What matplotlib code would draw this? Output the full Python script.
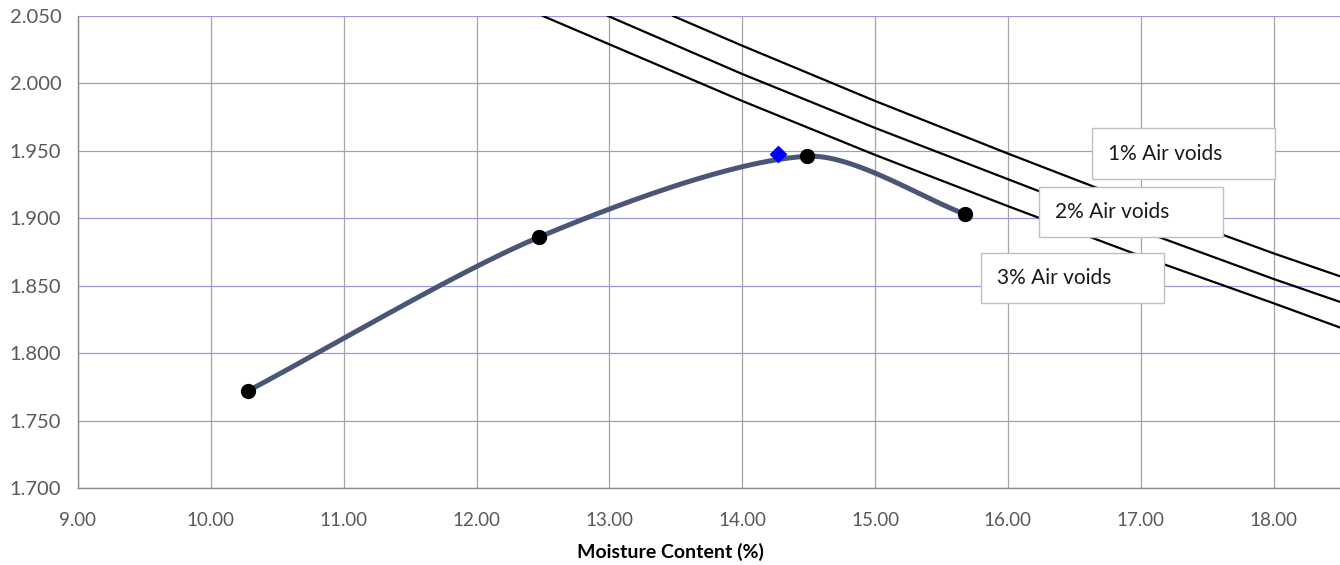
import numpy as np
import matplotlib.pyplot as plt

plt.rcParams['font.family'] = ['Lato', 'DejaVu Sans']

# Compaction test results -----------------------------------------------------
moisture = [10.28, 12.47, 14.49, 15.68]
density = [1.772, 1.886, 1.946, 1.903]
# Maximum dry density / optimum moisture content
omc = [14.27]
mdd = [1.9477]
# Air voids lines -------------------------------------------------------------
av1_x = [13.48, 14.0, 15.0, 16.0, 17.0, 18.0, 18.5]
av1_y = [2.050, 2.028, 1.987, 1.948, 1.910, 1.874, 1.857]
av2_x = [12.99, 14.0, 15.0, 16.0, 17.0, 18.0, 18.5]
av2_y = [2.050, 2.007, 1.967, 1.929, 1.891, 1.855, 1.838]
av3_x = [12.50, 13.0, 14.0, 15.0, 16.0, 17.0, 18.0, 18.5]
av3_y = [2.050, 2.029, 1.987, 1.947, 1.909, 1.872, 1.837, 1.819]
av_labels = ['1% Air voids', '2% Air voids', '3% Air voids']
xticks = np.arange(9, 18.01, 1.0)
yticks = np.arange(1.70, 2.051, 0.05)
# Pixel scale of the plot area (used only for the smoothing tangents)
(PX_X, PX_Y) = (132.7, 1348.6)
TENSION = 0.27


def smooth(xs, ys, n=60):
    # Excel-like smoothed line: cubic Bezier, chord-length scaled tangents
    p = np.column_stack([np.array(xs)*PX_X, np.array(ys)*PX_Y])
    k = len(p)
    tang = []
    for i in range(k):
        (a, b) = (p[max(i-1, 0)], p[min(i+1, k-1)])
        d = b - a
        tang.append(d/np.linalg.norm(d))
    out = []
    t = np.linspace(0, 1, n)[:, None]
    for i in range(k-1):
        L = np.linalg.norm(p[i+1] - p[i])
        (b0, b3) = (p[i], p[i+1])
        b1 = b0 + tang[i]*L*TENSION
        b2 = b3 - tang[i+1]*L*TENSION
        c = ((1-t)**3)*b0 + 3*((1-t)**2)*t*b1 + 3*(1-t)*(t**2)*b2 + (t**3)*b3
        out.append(c)
    out = np.vstack(out)
    return out[:, 0]/PX_X, out[:, 1]/PX_Y


fig = plt.figure(figsize=(13.4, 5.65), dpi=100)
ax = fig.add_axes([78/1340, 77/565, 1262/1340, 472/565])

# Grid -------------------------------------------------------------------------
ax.set_xticks(xticks)
ax.set_yticks(yticks)
ax.xaxis.grid(True, color='#A6A6A6', lw=0.9)
ax.yaxis.grid(True, color='#9A9AE0', lw=0.9)
ax.set_axisbelow(True)

# Air voids lines ----------------------------------------------------------------
for (xs, ys) in [(av1_x, av1_y), (av2_x, av2_y), (av3_x, av3_y)]:
    ax.plot(xs, ys, color='black', lw=1.6, zorder=2)

# Compaction curve ---------------------------------------------------------------
(sx, sy) = smooth(moisture, density)
ax.plot(sx, sy, color='#4A5677', lw=3.6, solid_capstyle='round', zorder=3)
ax.plot(moisture, density, 'o', color='black', ms=10, zorder=4)
ax.plot(omc, mdd, 'D', color='#0000FF', ms=8, zorder=5)

# Labels for air voids lines (boxes in pixel coords) ---------------------------
label_pos = [(1092, 1275, 128, 179), (1039, 1223, 187, 237), (981, 1164, 253, 303)]
for (lbl, (x0, x1, y0, y1)) in zip(av_labels, label_pos):
    (fx0, fx1) = (x0/1340, x1/1340)
    (fy0, fy1) = (1 - y1/565, 1 - y0/565)
    fig.patches.append(plt.Rectangle((fx0, fy0), fx1 - fx0, fy1 - fy0,
                                     transform=fig.transFigure, fc='white',
                                     ec='#BFBFBF', lw=1.0, zorder=6))
    fig.text(fx0 + 16/1340, (fy0 + fy1)/2, lbl, fontsize=15, color='#1A1A1A',
             va='center', ha='left', zorder=7)

# Axes -------------------------------------------------------------------------
ax.set_xlim(9, 18.5)
ax.set_ylim(1.70, 2.05)
ax.set_xticklabels(['{:.2f}'.format(v) for v in xticks])
ax.set_yticklabels(['{:.3f}'.format(v) for v in yticks])
ax.tick_params(length=0, labelsize=13.5, colors='#595959')
ax.tick_params(axis='x', pad=17)
ax.tick_params(axis='y', pad=12, labelsize=14.5)
for s in ['top', 'right']:
    ax.spines[s].set_visible(False)
for s in ['left', 'bottom']:
    ax.spines[s].set_color('#8C8C8C')
    ax.spines[s].set_linewidth(1.0)
ax.set_xlabel('Moisture Content (%)', fontsize=14, fontweight='bold',
              color='black')
ax.xaxis.set_label_coords((670 - 78)/1262, -(543 - 488)/472)

fig.savefig('out.png', dpi=100)
